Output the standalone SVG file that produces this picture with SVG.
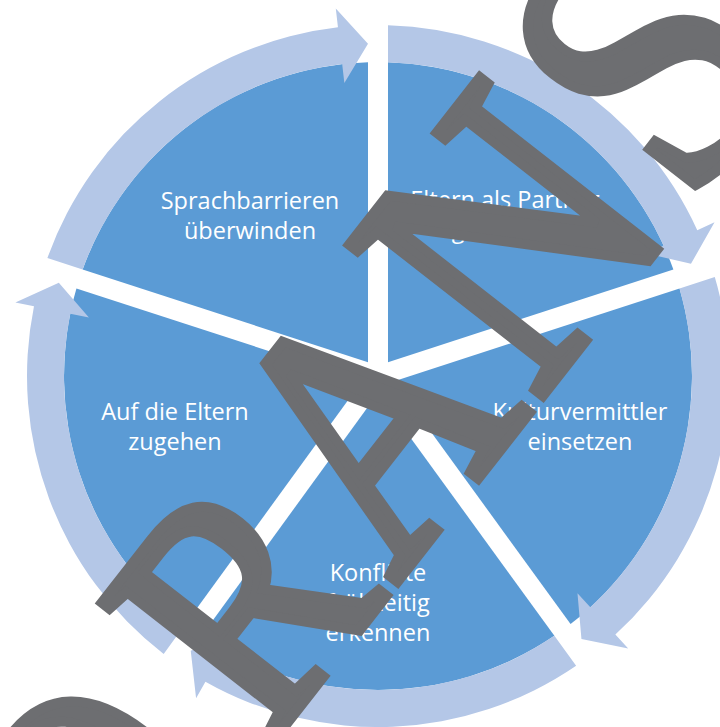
<svg xmlns="http://www.w3.org/2000/svg" xmlns:xlink="http://www.w3.org/1999/xlink" width="720" height="727" viewBox="0 0 720 727">
<style>
.wedge{fill:#5B9BD5}
.arc{fill:#B4C7E7}
.lbl{fill:#FFFFFF;font-family:"Open Sans","Noto Sans",sans-serif;font-size:23.5px;text-anchor:middle}
.wm{fill:#6D6E71;stroke:#6D6E71;stroke-width:11;stroke-linejoin:miter;stroke-miterlimit:2;font-family:"Liberation Serif",serif;font-size:360px;font-kerning:none}
</style>
<defs>
<path id="wedgeShape" d="M368,362.24 L82.61,269.51 A314,314 0 0 1 368,62.16 Z"/>
<path id="arcShape" d="M47.40,258.06 A351,351 0 0 1 337.96,27.29 L335.79,8.42 L368,43.65 L344.35,82.93 L342.18,64.05 A314,314 0 0 0 82.61,269.51 Z"/>
</defs>
<rect width="720" height="727" fill="#FFFFFF"/>
<g id="node-sprachbarrieren">
<use xlink:href="#wedgeShape" class="wedge"/>
<text class="lbl" x="250" y="209">Sprachbarrieren</text>
<text class="lbl" x="250" y="239">überwinden</text>
</g>
<g id="node-eltern-partner">
<use xlink:href="#wedgeShape" class="wedge" transform="rotate(72 378 376)"/>
<text class="lbl" x="505" y="208">Eltern als Partner</text>
<text class="lbl" x="505" y="238">gewinnen</text>
</g>
<g id="node-kulturvermittler">
<use xlink:href="#wedgeShape" class="wedge" transform="rotate(144 378 376)"/>
<text class="lbl" x="580" y="420">Kulturvermittler</text>
<text class="lbl" x="580" y="450">einsetzen</text>
</g>
<g id="node-konflikte">
<use xlink:href="#wedgeShape" class="wedge" transform="rotate(216 378 376)"/>
<text class="lbl" x="378" y="581">Konflikte</text>
<text class="lbl" x="378" y="611">frühzeitig</text>
<text class="lbl" x="378" y="641">erkennen</text>
</g>
<g id="node-auf-die-eltern">
<use xlink:href="#wedgeShape" class="wedge" transform="rotate(288 378 376)"/>
<text class="lbl" x="175" y="420">Auf die Eltern</text>
<text class="lbl" x="175" y="450">zugehen</text>
</g>
<g id="connectors">
<use xlink:href="#arcShape" class="arc"/>
<use xlink:href="#arcShape" class="arc" transform="rotate(72 378 376)"/>
<use xlink:href="#arcShape" class="arc" transform="rotate(144 378 376)"/>
<use xlink:href="#arcShape" class="arc" transform="rotate(216 378 376)"/>
<use xlink:href="#arcShape" class="arc" transform="rotate(288 378 376)"/>
</g>
<g id="watermark">
<text class="wm" transform="translate(390.1 590.7) rotate(-52) scale(0.85 1)" y="0"><tspan x="-824" font-size="306">V</tspan><tspan x="-524" font-size="317">O</tspan><tspan x="-230" font-size="335">R</tspan><tspan x="9.5">A</tspan><tspan x="280" font-size="374">N</tspan><tspan x="571" font-size="382">SICHT</tspan></text>
</g>
</svg>
